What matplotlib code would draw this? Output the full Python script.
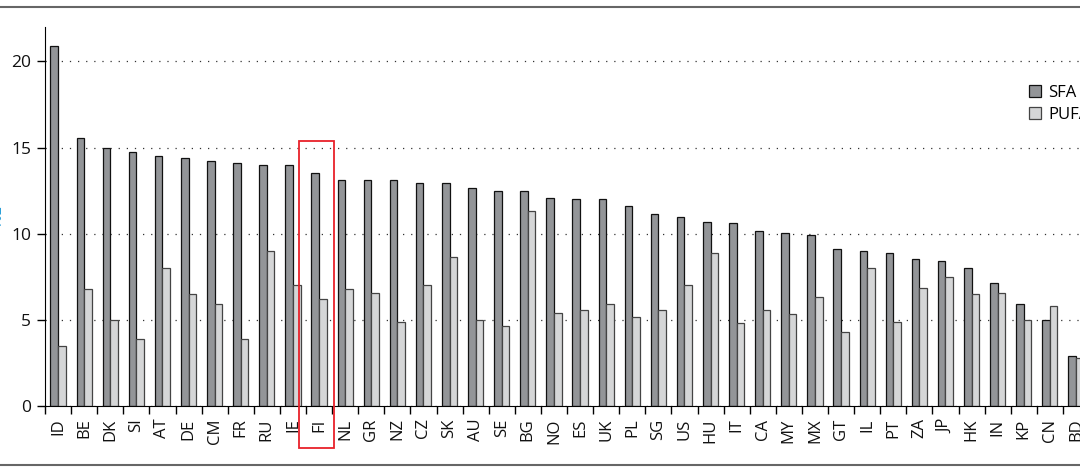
import numpy as np
from matplotlib import pyplot as plt
from matplotlib.lines import Line2D
from matplotlib.patches import Rectangle

plt.rcParams['font.family'] = ['Open Sans', 'DejaVu Sans']

# data
countries = ["ID", "BE", "DK", "SI", "AT", "DE", "CM", "FR", "RU", "IE",
             "FI", "NL", "GR", "NZ", "CZ", "SK", "AU", "SE", "BG", "NO",
             "ES", "UK", "PL", "SG", "US", "HU", "IT", "CA", "MY", "MX",
             "GT", "IL", "PT", "ZA", "JP", "HK", "IN", "KP", "CN", "BD"]
sfa = [20.9, 15.55, 15.0, 14.75, 14.5, 14.4, 14.25, 14.1, 14.0, 14.0,
       13.5, 13.1, 13.1, 13.1, 12.95, 12.95, 12.65, 12.5, 12.5, 12.05,
       12.0, 12.0, 11.6, 11.15, 11.0, 10.7, 10.6, 10.15, 10.05, 9.9,
       9.1, 9.0, 8.9, 8.55, 8.4, 8.0, 7.15, 5.9, 5.0, 2.9]
pufa = [3.5, 6.8, 5.0, 3.9, 8.0, 6.5, 5.9, 3.9, 9.0, 7.0,
        6.2, 6.8, 6.55, 4.9, 7.0, 8.65, 5.0, 4.65, 11.3, 5.4,
        5.6, 5.9, 5.15, 5.6, 7.0, 8.9, 4.8, 5.6, 5.35, 6.3,
        4.3, 8.0, 4.9, 6.85, 7.5, 6.5, 6.55, 5.0, 5.8, 2.8]

W, H = 1080, 475
fig = plt.figure(figsize=(W/100, H/100), dpi=100)
# axes run past the right edge, like the cropped screenshot
ax = fig.add_axes([45/W, 69/H, 1044/W, 379/H])

x = np.arange(len(countries))
bw = 0.29
ax.bar(x - 0.145, sfa, bw, color="#939598", edgecolor="#111111", linewidth=0.9, label="SFA", zorder=2)
ax.bar(x + 0.145, pufa, bw, color="#d5d6d7", edgecolor="#444444", linewidth=0.9, label="PUFA", zorder=2)

ax.set_xlim(-0.5, len(countries) - 0.5)
ax.set_ylim(0, 22)
ax.set_yticks([0, 5, 10, 15, 20])
ax.set_xticks(x)
ax.set_xticklabels(countries, rotation=90)
ax.set_xticks(np.arange(len(countries) + 1) - 0.5, minor=True)
ax.tick_params(axis="x", which="major", length=0, pad=9, labelsize=12, labelcolor="#111111")
ax.tick_params(axis="x", which="minor", length=6, width=1, direction="out")
ax.tick_params(axis="y", length=6, width=1, pad=4, labelsize=12.5, labelcolor="#111111")

ax.spines["top"].set_visible(False)
ax.spines["right"].set_visible(False)
ax.yaxis.grid(True, linestyle=(0, (1, 5.5)), color="#333333", linewidth=0.9)
ax.set_axisbelow(True)

# red box around FI
ax.add_patch(Rectangle((9.23, -2.45), 1.34, 17.85, fill=False, edgecolor="#e8212a",
                       linewidth=1.3, clip_on=False, zorder=5))

ax.legend(loc="upper left", bbox_to_anchor=(1029/W, 1 - 85/H), bbox_transform=fig.transFigure,
          frameon=False, fontsize=12, handlelength=0.7, handleheight=0.7,
          handletextpad=0.45, labelspacing=0.35, borderpad=0, borderaxespad=0)

# cut off y label on the far left
fig.text(-3/W, 1 - 216/H, "%E", rotation=90, color="#2a9fd8", fontsize=12, ha="center", va="center")

# screenshot frame lines
fig.add_artist(Line2D([0, 1], [1 - 7/H, 1 - 7/H], transform=fig.transFigure, color="#666666", linewidth=1.5))
fig.add_artist(Line2D([0, 1], [1 - 465/H, 1 - 465/H], transform=fig.transFigure, color="#666666", linewidth=1.5))

fig.savefig("out.png", dpi=100)
